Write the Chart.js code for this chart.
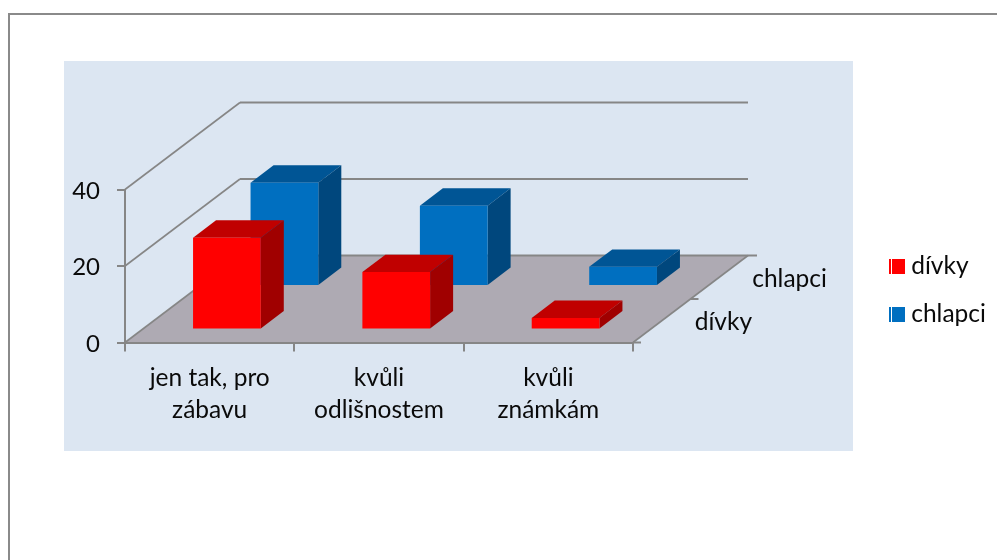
<!DOCTYPE html>
<html>
<head>
<meta charset="utf-8">
<script src="https://cdn.jsdelivr.net/npm/chart.js@4/dist/chart.umd.js"></script>
<style>html,body{margin:0;padding:0;background:#fff;overflow:hidden}canvas{display:block}</style>
</head>
<body>
<canvas id="c" width="997" height="560"></canvas>
<script>
const categories = [['jen tak, pro','zábavu'],['kvůli','odlišnostem'],['kvůli','známkám']];
const seriesNames = ['dívky','chlapci'];
const divky = [24,15,3];
const chlapci = [27,21,5];
const yMax = 40;
const yStep = 20;

const FONT = 'Lato, Carlito, Calibri, sans-serif';
const FS = 24.5;
const AXIS = '#868686';
const INK = '#0a0a0a';
const DEPTH_X = 115, DEPTH_Y = 87;          // projection of the floor depth
const BAND = 0.5, FRONT_GAP = 0.3, BAR_DEPTH = 0.4; // fractions of one depth band
const SIDES = [{top:'#c00000',side:'#a00000'},{top:'#005595',side:'#00477d'}];

function poly(ctx, pts, fill){
  ctx.beginPath();
  pts.forEach((p,i)=> i?ctx.lineTo(p[0],p[1]):ctx.moveTo(p[0],p[1]));
  ctx.closePath();
  ctx.fillStyle=fill;ctx.fill();
}
function line(ctx,x1,y1,x2,y2,w){
  ctx.beginPath();ctx.moveTo(x1,y1);ctx.lineTo(x2,y2);
  ctx.strokeStyle=AXIS;ctx.lineWidth=w||2;ctx.stroke();
}

const depth3d = {
  id:'depth3d',
  afterDatasetsUpdate(chart){
    chart.data.datasets.forEach((d,i)=>{
      const f = (i + FRONT_GAP) * BAND;
      const dx = DEPTH_X*f, dy = DEPTH_Y*f;
      chart.getDatasetMeta(i).data.forEach(el=>{
        el.x += dx; el.y -= dy; el.base -= dy;
      });
    });
  },
  afterLayout(chart){
    const lg = chart.legend;
    if(!lg) return;
    const p = lg.options.labels.padding;
    const w = lg.width, h = lg.height;
    lg.left = 889 - p; lg.right = lg.left + w;
    lg.top = 254 - p; lg.bottom = lg.top + h;
  },
  beforeDraw(chart){
    const ctx = chart.ctx, xs = chart.scales.x, ys = chart.scales.y;
    const L = xs.left, R = xs.right, B = ys.bottom;
    ctx.save();
    ctx.fillStyle='#ffffff';ctx.fillRect(0,0,chart.width,chart.height);
    ctx.fillStyle='#dce6f2';ctx.fillRect(64,61,789,390);
    ctx.fillStyle='#8a8a8a';
    ctx.fillRect(8,13,989,2);
    ctx.fillRect(8,13,2,547);
    // floor
    poly(ctx,[[L,B],[R,B],[R+DEPTH_X,B-DEPTH_Y],[L+DEPTH_X,B-DEPTH_Y]],'#aeaab3');
    // walls
    ys.ticks.forEach(t=>{
      const y = ys.getPixelForValue(t.value);
      line(ctx,L,y,L+DEPTH_X,y-DEPTH_Y,1.6);
      line(ctx,L+DEPTH_X,y-DEPTH_Y,R+DEPTH_X+(t.value===0?9:0),y-DEPTH_Y,2);
    });
    line(ctx,R,B,R+DEPTH_X,B-DEPTH_Y,1.6);
    // ticks on the depth axis
    seriesNames.forEach((n,i)=>{
      const f=i*BAND;
      line(ctx,R+DEPTH_X*f,B-DEPTH_Y*f,R+DEPTH_X*f+8,B-DEPTH_Y*f,2);
    });
    ctx.restore();
  },
  beforeDatasetDraw(chart,args){
    const ctx = chart.ctx, c = SIDES[args.index];
    const ddx = DEPTH_X*BAND*BAR_DEPTH, ddy = DEPTH_Y*BAND*BAR_DEPTH;
    ctx.save();
    args.meta.data.forEach(el=>{
      const l = el.x-el.width/2, r = el.x+el.width/2, y = el.y, b = el.base;
      poly(ctx,[[l,y],[r,y],[r+ddx,y-ddy],[l+ddx,y-ddy]],c.top);
      poly(ctx,[[r,y],[r+ddx,y-ddy],[r+ddx,b-ddy],[r,b]],c.side);
    });
    ctx.restore();
  },
  afterDraw(chart){
    const ctx = chart.ctx, xs = chart.scales.x, ys = chart.scales.y;
    ctx.save();
    ctx.font = FS+'px '+FONT;
    ctx.fillStyle=INK;
    ctx.textAlign='left';ctx.textBaseline='middle';
    seriesNames.forEach((n,i)=>{
      const f=(i+0.5)*BAND;
      ctx.fillText(n,xs.right+DEPTH_X*f+33,ys.bottom-DEPTH_Y*f+1.5);
    });
    // legend swatches: striped left edge
    const tops=[259,307];
    chart.data.datasets.forEach((d,i)=>{
      ctx.fillStyle=d.backgroundColor;
      ctx.fillRect(889,tops[i],16,15);
      ctx.fillStyle='#ffffff';
      ctx.fillRect(891,tops[i],1,15);
    });
    ctx.restore();
  }
};

Chart.defaults.font.family = FONT;
Chart.defaults.font.size = FS;
Chart.defaults.color = INK;

const barPct = 0.4;
const chart = new Chart(document.getElementById('c'),{
  type:'bar',
  data:{
    labels:categories,
    datasets:[
      {label:seriesNames[0],data:divky,backgroundColor:'#ff0000',grouped:false,barPercentage:barPct,categoryPercentage:1,clip:false},
      {label:seriesNames[1],data:chlapci,backgroundColor:'#006fc0',grouped:false,barPercentage:barPct,categoryPercentage:1,clip:false}
    ]
  },
  options:{
    responsive:false,
    animation:false,
    events:[],
    layout:{padding:{left:64,top:189.5,bottom:117.5,right:100}},
    plugins:{
      tooltip:{enabled:false},
      legend:{
        display:true,position:'right',align:'start',
        labels:{boxWidth:10,boxHeight:11,padding:23.5,color:INK,font:{size:FS,family:FONT}}
      }
    },
    scales:{
      x:{
        offset:true,
        afterFit(s){s.height=100;},
        grid:{drawOnChartArea:false,color:AXIS,lineWidth:2,tickLength:9,offset:true},
        border:{color:AXIS,width:2},
        ticks:{padding:10.5,maxRotation:0,autoSkip:false,font:{size:FS,family:FONT,lineHeight:1.306},color:INK}
      },
      y:{
        min:0,max:yMax,
        afterFit(s){s.width=61;},
        grid:{drawOnChartArea:false,color:AXIS,lineWidth:2,tickLength:8},
        border:{color:AXIS,width:2},
        ticks:{stepSize:yStep,padding:17,labelOffset:1.5,font:{size:24,family:FONT},color:INK}
      }
    }
  },
  plugins:[depth3d]
});
chart.options.layout.padding.right = 997 - 633 - chart.legend.width;
chart.update();
</script>
</body>
</html>
